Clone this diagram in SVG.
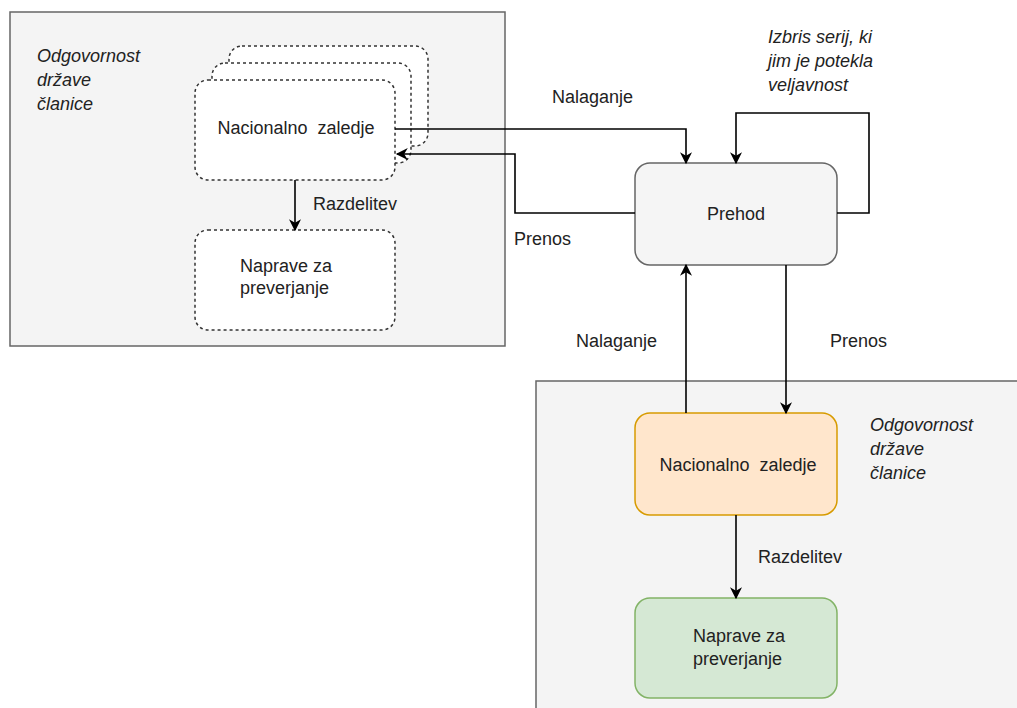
<svg xmlns="http://www.w3.org/2000/svg" width="1017" height="708" viewBox="0 0 1017 708">
<style>
text{font-family:"Liberation Sans",Arial,sans-serif;font-size:18px;fill:#222;white-space:pre}
.it{font-style:italic}
.cont{fill:#f4f4f4;stroke:#666;stroke-width:1.5}
.dash{fill:#fff;stroke:#333;stroke-width:1.5;stroke-dasharray:3 3}
.edge{fill:none;stroke:#000;stroke-width:1.6}
</style>
<defs>
<marker id="arr" viewBox="0 0 10 10" refX="9" refY="5" markerWidth="13" markerHeight="12" orient="auto" markerUnits="userSpaceOnUse">
<path d="M0,0 L10,5 L0,10 L3,5 z" fill="#000"/>
</marker>
</defs>
<g id="container-left">
<rect class="cont" x="10" y="12" width="495" height="334"/>
<text class="it" x="37" y="62">Odgovornost</text>
<text class="it" x="37" y="86">države</text>
<text class="it" x="37" y="110">članice</text>
</g>
<g id="container-right">
<rect class="cont" x="536" y="381" width="500" height="340"/>
<text class="it" x="870" y="431">Odgovornost</text>
<text class="it" x="870" y="455">države</text>
<text class="it" x="870" y="479">članice</text>
</g>
<g id="node-backend-left">
<rect class="dash" x="229" y="46" width="199" height="100" rx="13"/>
<rect class="dash" x="212" y="63" width="199" height="100" rx="13"/>
<rect class="dash" x="195" y="80" width="200" height="100" rx="13"/>
<text x="296" y="134" text-anchor="middle" xml:space="preserve">Nacionalno  zaledje</text>
</g>
<g id="node-devices-left">
<rect class="dash" x="195" y="230" width="200" height="100" rx="13"/>
<text x="240" y="272">Naprave za</text>
<text x="240" y="294">preverjanje</text>
</g>
<g id="node-gateway">
<rect x="635" y="163" width="202" height="102" rx="15" fill="#f5f5f5" stroke="#666" stroke-width="1.5"/>
<text x="736" y="220" text-anchor="middle" fill="#333">Prehod</text>
</g>
<g id="node-backend-right">
<rect x="635" y="413" width="202" height="102" rx="15" fill="#ffe6cc" stroke="#d79b00" stroke-width="1.5"/>
<text x="738" y="471" text-anchor="middle" xml:space="preserve">Nacionalno  zaledje</text>
</g>
<g id="node-devices-right">
<rect x="635" y="598" width="202" height="100" rx="15" fill="#d5e8d4" stroke="#82b366" stroke-width="1.5"/>
<text x="693" y="642">Naprave za</text>
<text x="693" y="665">preverjanje</text>
</g>
<g id="connectors">
<path class="edge" d="M395,129 H686 V163" marker-end="url(#arr)"/>
<path class="edge" d="M635,213 H515 V154 H397" marker-end="url(#arr)"/>
<path class="edge" d="M837,213 H869 V113 H736 V163" marker-end="url(#arr)"/>
<path class="edge" d="M295,180 V230" marker-end="url(#arr)"/>
<path class="edge" d="M686,413 V265" marker-end="url(#arr)"/>
<path class="edge" d="M786,265 V413" marker-end="url(#arr)"/>
<path class="edge" d="M736,515 V598" marker-end="url(#arr)"/>
<text x="552" y="103">Nalaganje</text>
<text x="514" y="245">Prenos</text>
<text x="313" y="210">Razdelitev</text>
<text class="it" x="768" y="43">Izbris serij, ki</text>
<text class="it" x="768" y="67">jim je potekla</text>
<text class="it" x="768" y="91">veljavnost</text>
<text x="576" y="347">Nalaganje</text>
<text x="830" y="347">Prenos</text>
<text x="758" y="563">Razdelitev</text>
</g>
</svg>
